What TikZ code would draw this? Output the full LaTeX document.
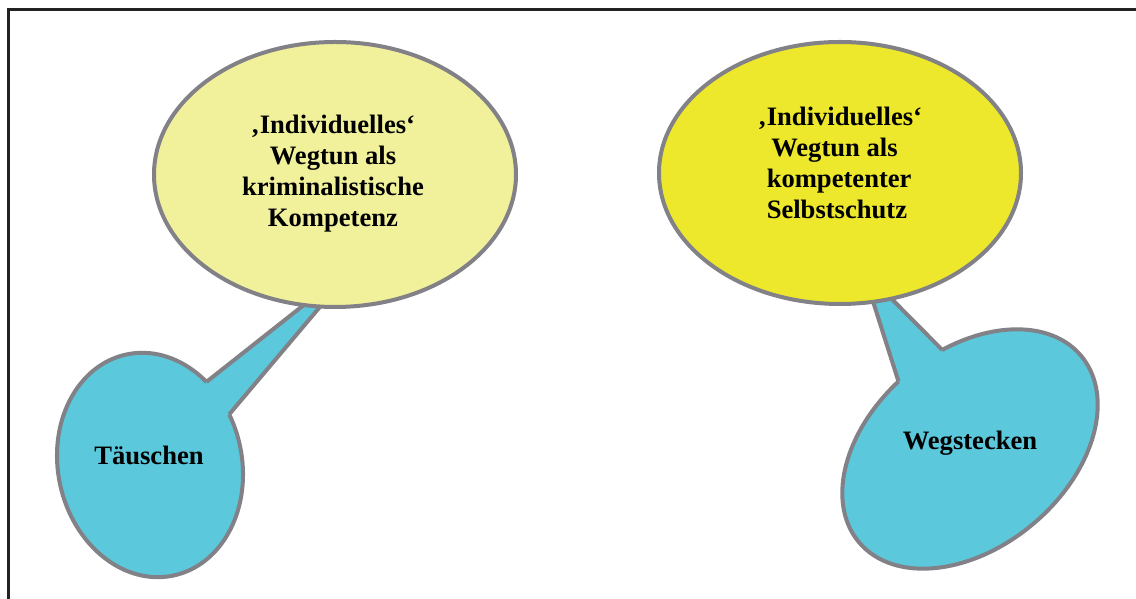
\documentclass[tikz,border=0pt]{standalone}
\usepackage{fontspec}
\setmainfont{Liberation Serif}
\usetikzlibrary{shapes.geometric}
\definecolor{paleyellow}{HTML}{F2F19B}
\definecolor{brightyellow}{HTML}{EDE82B}
\definecolor{calloutblue}{HTML}{5BC8DB}
\definecolor{edgegray}{HTML}{818187}
\definecolor{framegray}{HTML}{222222}
\begin{document}
\begin{tikzpicture}[x=1pt,y=1pt,
  border/.style={draw=edgegray, line width=4pt},
  bubble/.style={ellipse, border, inner sep=0pt},
  txt/.style={font=\bfseries\fontsize{26.6}{31}\selectfont, inner sep=0pt}]
\useasboundingbox (0,0) rectangle (1136,599);
\clip (0,0) rectangle (1136,599);
% page frame, running off the right and bottom edges
\draw[line width=3pt, color=framegray] (8,-20) rectangle (1150,589);

% left speech bubble
\begin{scope}[shift={(150,134)}, rotate=12]
  \coordinate (lb1) at ({92*cos(38)},{113*sin(38)});
  \coordinate (lb2) at ({92*cos(17)},{113*sin(17)});
  \coordinate (lbc) at (0,0);
  \draw[border, fill=calloutblue] (0,0) ellipse [x radius=92, y radius=113];
\end{scope}
\coordinate (lapex) at (357,336);
\fill[calloutblue] (lb1) -- (lapex) -- (lb2) -- (lbc) -- cycle;
\draw[border, line join=miter] (lb1) -- (lapex) -- (lb2);

% right speech bubble
\begin{scope}[shift={(970,150)}, rotate=40]
  \coordinate (rb1) at ({145*cos(73)},{98*sin(73)});
  \coordinate (rb2) at ({145*cos(94.5)},{98*sin(94.5)});
  \coordinate (rbc) at (0,0);
  \draw[border, fill=calloutblue] (0,0) ellipse [x radius=145, y radius=98];
\end{scope}
\coordinate (rapex) at (863,329);
\fill[calloutblue] (rb1) -- (rapex) -- (rb2) -- (rbc) -- cycle;
\draw[border, line join=miter] (rb1) -- (rapex) -- (rb2);

% the two main ellipses
\node[bubble, fill=paleyellow, minimum width=362pt, minimum height=265pt] (crim) at (335,424.5) {};
\node[bubble, fill=brightyellow, minimum width=362pt, minimum height=262pt] (self) at (840,426) {};

% texts
\node[txt, align=center] (crimtext) at (333,425) {‚Individuelles‘\\Wegtun als\\kriminalistische\\Kompetenz};
\node[txt, align=left] (selftext) at (840,436.5) {‚Individuelles‘\\\hspace*{0.5em}Wegtun als\\\hspace*{0.33em}kompetenter\\\hspace*{0.33em}Selbstschutz};
\node[txt] (taeuschen) at (149,144) {Täuschen};
\node[txt] (wegstecken) at (970,156) {Wegstecken};
\end{tikzpicture}
\end{document}
